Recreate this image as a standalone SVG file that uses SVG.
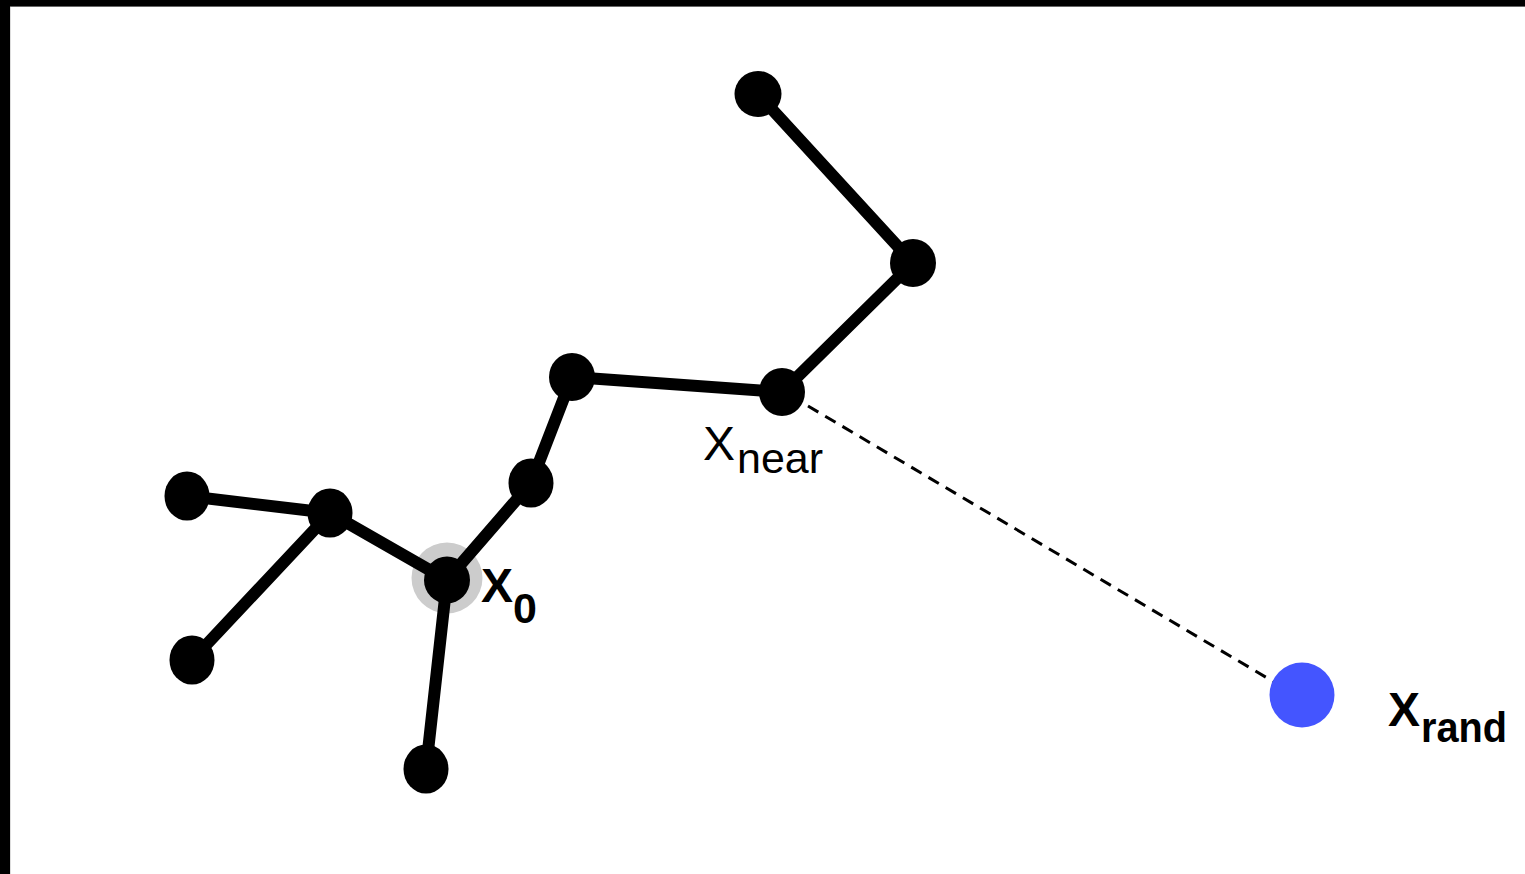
<svg xmlns="http://www.w3.org/2000/svg" width="1525" height="874" viewBox="0 0 1525 874">
  <style>
    .edge { stroke: #000; stroke-width: 12; stroke-linecap: round; fill: none; }
    .node { fill: #000; }
    .lbl { font-family: "Liberation Sans", Arial, sans-serif; fill: #000; }
    .main { font-size: 48px; }
    .sub { font-size: 43px; }
    .bold { font-weight: bold; }
  </style>
  <rect x="0" y="0" width="1525" height="874" fill="#fff"/>
  <rect x="0" y="0" width="1525" height="6" fill="#000"/>
  <rect x="0" y="6" width="1525" height="1" fill="#666"/>
  <rect x="0" y="0" width="10" height="874" fill="#000"/>
  <rect x="10" y="7" width="1" height="867" fill="#ddd"/>

  <g id="halo-x0">
    <circle cx="447" cy="578" r="35.5" fill="#cccccc"/>
  </g>

  <g id="connectors">
    <line class="edge" x1="758" y1="94" x2="913" y2="263" stroke-width="11"/>
    <line class="edge" x1="913" y1="263" x2="782" y2="392" stroke-width="14"/>
    <line class="edge" x1="782" y1="392" x2="572" y2="377"/>
    <line class="edge" x1="572" y1="377" x2="531" y2="483"/>
    <line class="edge" x1="531" y1="483" x2="447" y2="580"/>
    <line class="edge" x1="447" y1="580" x2="330" y2="513"/>
    <line class="edge" x1="330" y1="513" x2="187" y2="496"/>
    <line class="edge" x1="330" y1="513" x2="192" y2="660"/>
    <line class="edge" x1="447" y1="580" x2="426" y2="769"/>
    <line x1="808" y1="406" x2="1274" y2="682" stroke="#000" stroke-width="3" stroke-dasharray="12 8"/>
  </g>

  <g id="node-a"><ellipse class="node" cx="758" cy="94" rx="23.5" ry="23"/></g>
  <g id="node-b"><ellipse class="node" cx="913" cy="263" rx="23" ry="24"/></g>
  <g id="node-near"><ellipse class="node" cx="782" cy="392" rx="23" ry="24"/></g>
  <g id="node-c"><ellipse class="node" cx="572" cy="377" rx="23" ry="24"/></g>
  <g id="node-d"><ellipse class="node" cx="531" cy="483" rx="22.5" ry="24.5"/></g>
  <g id="node-x0"><ellipse class="node" cx="447" cy="580" rx="23" ry="23.5"/></g>
  <g id="node-e"><ellipse class="node" cx="330" cy="513" rx="22.5" ry="24.5"/></g>
  <g id="node-f"><ellipse class="node" cx="187" cy="496" rx="22.5" ry="24.5"/></g>
  <g id="node-g"><ellipse class="node" cx="192" cy="660" rx="22.5" ry="24.5"/></g>
  <g id="node-h"><ellipse class="node" cx="426" cy="769" rx="22.5" ry="24.5"/></g>
  <g id="node-rand"><circle cx="1302" cy="695" r="32.5" fill="#4455ff"/></g>

  <g id="label-near">
    <text class="lbl main" x="703" y="460">X</text>
    <text class="lbl sub" x="737" y="473">near</text>
  </g>
  <g id="label-x0">
    <text class="lbl main bold" x="481" y="602">X</text>
    <text class="lbl sub bold" x="513" y="623">0</text>
  </g>
  <g id="label-rand">
    <text class="lbl main bold" x="1388" y="726">X</text>
    <text class="lbl sub bold" x="1421" y="742" textLength="86" lengthAdjust="spacingAndGlyphs">rand</text>
  </g>
</svg>
